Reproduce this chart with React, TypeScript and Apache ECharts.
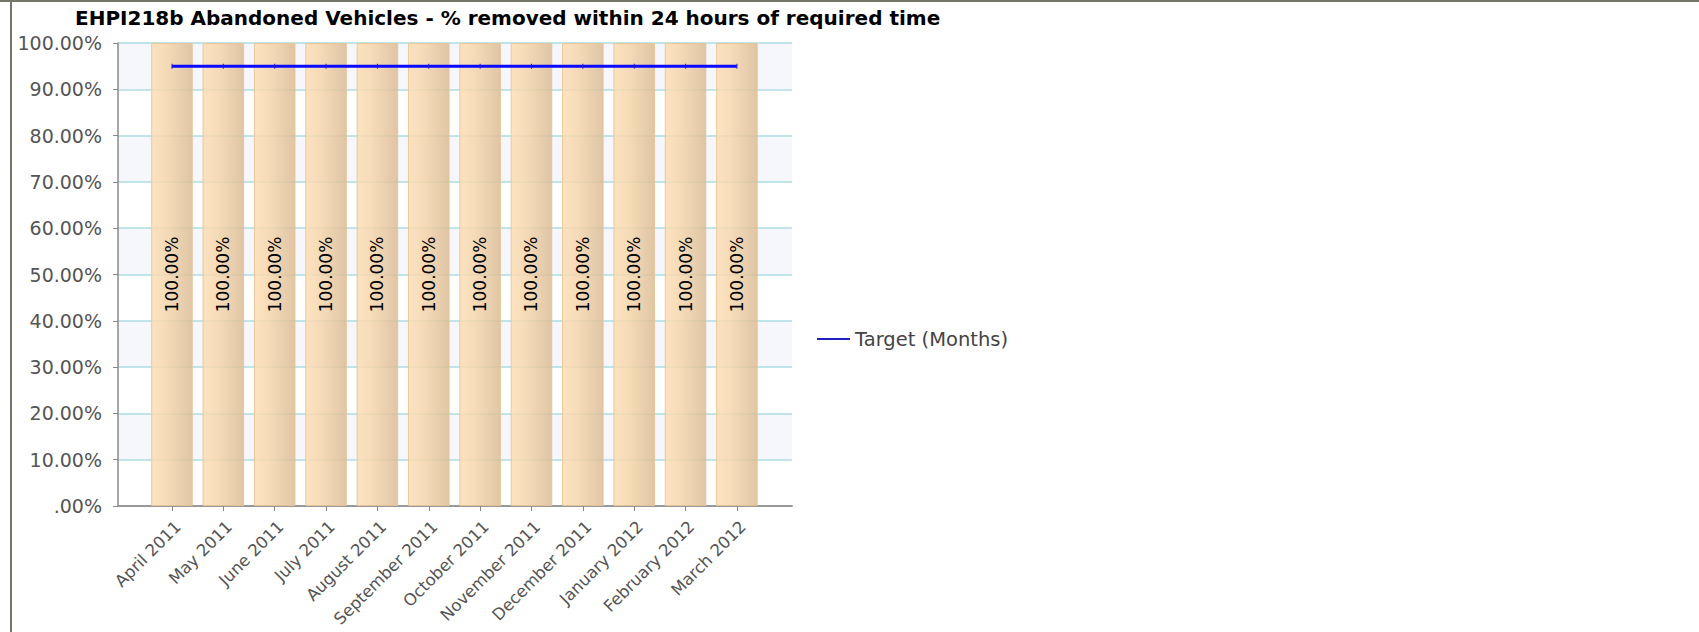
import React, { useEffect, useRef } from "react";
import * as echarts from "echarts";

const titleText = "EHPI218b Abandoned Vehicles - % removed within 24 hours of required time";
const months = [
  "April 2011", "May 2011", "June 2011", "July 2011", "August 2011", "September 2011",
  "October 2011", "November 2011", "December 2011", "January 2012", "February 2012", "March 2012",
];
const actualValues = [100, 100, 100, 100, 100, 100, 100, 100, 100, 100, 100, 100];
const targetValues = [95, 95, 95, 95, 95, 95, 95, 95, 95, 95, 95, 95];
const targetName = "Target (Months)";
const yTicks = [0, 10, 20, 30, 40, 50, 60, 70, 80, 90, 100];

const FONT = "DejaVu Sans";

export default function App() {
  const ref = useRef<HTMLDivElement>(null);
  useEffect(() => {
    if (!ref.current) return;
    const chart = echarts.init(ref.current, undefined, { renderer: "svg" });
    const fmt = (v: number) => (v === 0 ? ".00%" : v.toFixed(2) + "%");
    chart.setOption({
      animation: false,
      backgroundColor: "#ffffff",
      title: {
        text: titleText,
        left: 75,
        top: 8,
        padding: 0,
        textStyle: { fontFamily: FONT, fontSize: 20, fontWeight: "bold", color: "#000" },
      },
      legend: {
        data: [{ name: targetName, icon: "rect" }],
        left: 817,
        top: 329,
        padding: 0,
        itemWidth: 33,
        itemHeight: 2,
        itemGap: 0,
        textStyle: { fontFamily: FONT, fontSize: 19.5, color: "#444" },
      },
      graphic: [
        { type: "rect", shape: { x: 0, y: 0, width: 1699, height: 2 }, style: { fill: "#75766a" }, z: 100 },
        { type: "rect", shape: { x: 10, y: 0, width: 2, height: 632 }, style: { fill: "#75766a" }, z: 100 },
      ],
      grid: [
        { left: 118, top: 43, width: 674, height: 463, outerBoundsMode: "none", containLabel: false },
        { left: 146.3, top: 43, width: 616.3, height: 463, outerBoundsMode: "none", containLabel: false },
      ],
      xAxis: [
        {
          gridIndex: 0,
          type: "value",
          min: 0,
          max: 1,
          axisLine: { show: true, lineStyle: { color: "#999", width: 2 } },
          axisTick: { show: false },
          axisLabel: { show: false },
          splitLine: { show: false },
        },
        {
          gridIndex: 1,
          type: "category",
          data: months,
          axisLine: { show: false },
          axisTick: { show: true, alignWithLabel: true, length: 5, lineStyle: { color: "#888", width: 1 } },
          axisLabel: {
            rotate: 45,
            margin: 12,
            interval: 0,
            verticalAlign: "top",
            fontFamily: FONT,
            fontSize: 16.5,
            color: "#555",
          },
          splitLine: { show: false },
        },
      ],
      yAxis: [
        {
          gridIndex: 0,
          type: "value",
          min: yTicks[0],
          max: yTicks[yTicks.length - 1],
          interval: 10,
          axisLine: { show: true, lineStyle: { color: "#888", width: 1.5 } },
          axisTick: { show: true, length: 5, lineStyle: { color: "#888" } },
          axisLabel: { margin: 16, fontFamily: FONT, fontSize: 19, color: "#555", formatter: fmt },
          splitLine: { show: true, lineStyle: { color: "#acdde5", width: 1.5 } },
          splitArea: { show: true, areaStyle: { color: ["#ffffff", "#f5f7fd"] } },
        },
        {
          gridIndex: 1,
          type: "value",
          min: 0,
          max: 100,
          show: false,
          splitLine: { show: false },
        },
      ],
      series: [
        {
          type: "bar",
          name: "Actual",
          xAxisIndex: 1,
          yAxisIndex: 1,
          data: actualValues,
          barWidth: 41.6,
          itemStyle: {
            color: new echarts.graphic.LinearGradient(0, 0, 1, 0, [
              { offset: 0, color: "rgba(252,222,180,0.85)" },
              { offset: 0.35, color: "rgba(246,214,172,0.85)" },
              { offset: 1, color: "rgba(218,188,149,0.85)" },
            ]),
            borderColor: "rgba(232,196,150,0.9)",
            borderWidth: 1,
          },
          label: {
            show: true,
            position: "inside",
            rotate: 90,
            fontFamily: FONT,
            fontSize: 17,
            color: "#000",
            formatter: (p: any) => Number(p.value).toFixed(2) + "%",
          },
        },
        {
          type: "line",
          name: targetName,
          xAxisIndex: 1,
          yAxisIndex: 1,
          data: targetValues,
          color: "#0000ff",
          lineStyle: { color: "#0a0aff", width: 3 },
          symbol: "rect",
          symbolSize: [1, 5],
          itemStyle: { color: "#2020c0" },
          z: 5,
        },
      ],
    });
    return () => chart.dispose();
  }, []);
  return (
    <div
      ref={ref}
      style={{ position: "fixed", left: 0, top: 0, width: 1699, height: 632, background: "#fff" }}
    />
  );
}
